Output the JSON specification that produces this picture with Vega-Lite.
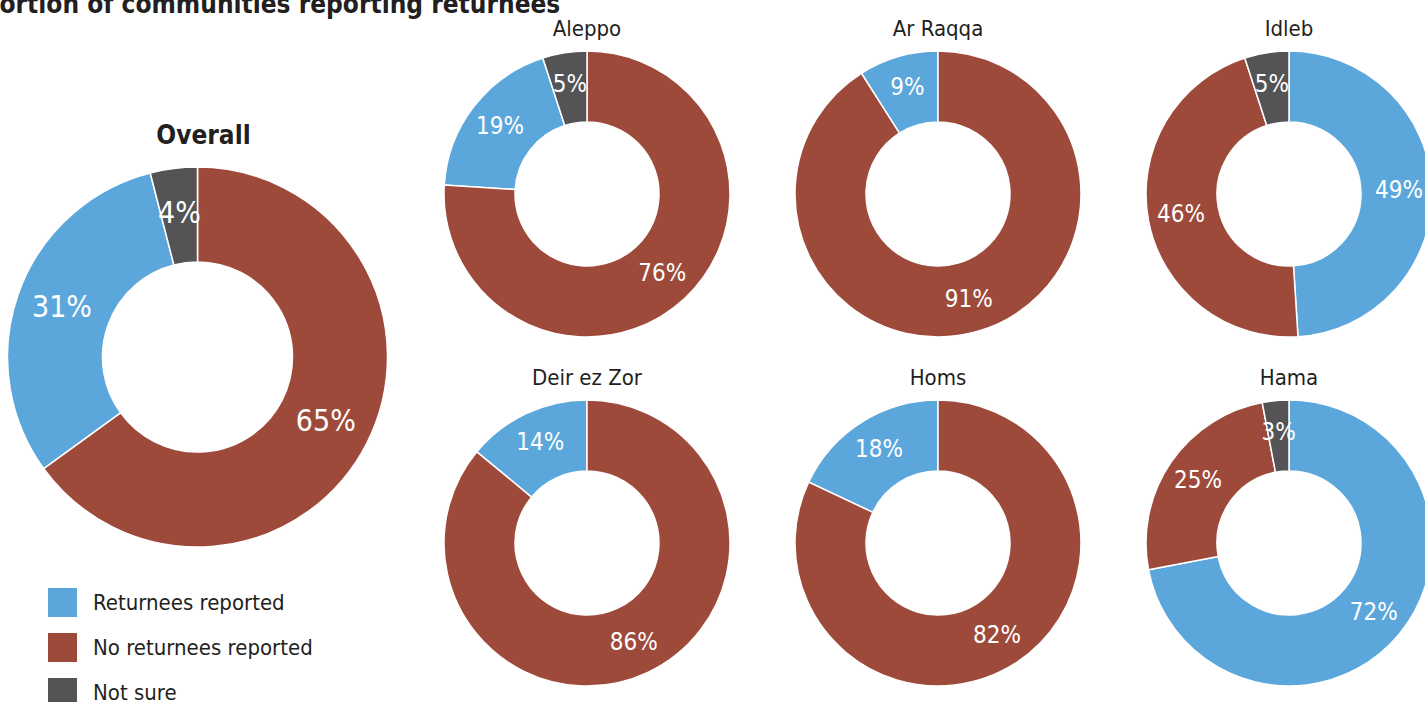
{
  "$schema": "https://vega.github.io/schema/vega-lite/v6.json",
  "padding": {"left": -62, "top": -8, "right": 0, "bottom": 0},
  "background": "white",
  "title": {"text": "Proportion of communities reporting returnees", "anchor": "start", "frame": "group", "font": "DejaVu Sans Condensed, Liberation Sans, sans-serif", "fontSize": 26, "fontWeight": "bold", "color": "#231F20", "offset": 0},
  "data": {"values": [
    {"region": "Overall", "category": "Returnees reported", "value": 0.31},
    {"region": "Overall", "category": "No returnees reported", "value": 0.65},
    {"region": "Overall", "category": "Not sure", "value": 0.04},
    {"region": "Aleppo", "category": "Returnees reported", "value": 0.19},
    {"region": "Aleppo", "category": "No returnees reported", "value": 0.76},
    {"region": "Aleppo", "category": "Not sure", "value": 0.05},
    {"region": "Ar Raqqa", "category": "Returnees reported", "value": 0.09},
    {"region": "Ar Raqqa", "category": "No returnees reported", "value": 0.91},
    {"region": "Idleb", "category": "Returnees reported", "value": 0.49},
    {"region": "Idleb", "category": "No returnees reported", "value": 0.46},
    {"region": "Idleb", "category": "Not sure", "value": 0.05},
    {"region": "Deir ez Zor", "category": "Returnees reported", "value": 0.14},
    {"region": "Deir ez Zor", "category": "No returnees reported", "value": 0.86},
    {"region": "Homs", "category": "Returnees reported", "value": 0.18},
    {"region": "Homs", "category": "No returnees reported", "value": 0.82},
    {"region": "Hama", "category": "Returnees reported", "value": 0.72},
    {"region": "Hama", "category": "No returnees reported", "value": 0.25},
    {"region": "Hama", "category": "Not sure", "value": 0.03}
  ]},
  "bounds": "flush",
  "spacing": 0,
  "resolve": {"scale": {"theta": "independent"}},
  "hconcat": [
    {
      "width": 519, "height": 616,
      "title": {"text": "Overall", "font": "DejaVu Sans Condensed, Liberation Sans, sans-serif", "fontSize": 26, "fontWeight": "bold", "color": "#231F20", "frame": "group", "offset": -100, "dx": 6},
      "transform": [{"filter": "datum.region === 'Overall'"}],
      "encoding": {
        "theta": {"field": "value", "type": "quantitative", "stack": true},
        "order": {"field": "value", "type": "quantitative", "sort": "descending"}
      },
      "layer": [
        {"mark": {"type": "arc", "innerRadius": 95, "outerRadius": 190, "stroke": "white", "strokeWidth": 1.5},
         "encoding": {"color": {"field": "category", "type": "nominal",
           "scale": {"domain": ["Returnees reported", "No returnees reported", "Not sure"], "range": ["#5BA7DB", "#9E4A3B", "#545456"]},
           "legend": {"title": null, "orient": "none", "legendX": 110, "legendY": 539, "symbolType": "square", "symbolSize": 841, "symbolStrokeWidth": 0, "symbolOpacity": 1, "labelFont": "DejaVu Sans Condensed, Liberation Sans, sans-serif", "labelFontSize": 22, "labelColor": "#231F20", "labelOffset": 16, "rowPadding": 16, "labelLimit": 400}}}},
        {"mark": {"type": "text", "radius": 144, "fill": "white", "font": "DejaVu Sans Condensed, Liberation Sans, sans-serif", "fontSize": 30},
         "encoding": {"text": {"field": "value", "type": "quantitative", "format": ".0%"}}}
      ]
    },
    {
      "bounds": "flush",
      "columns": 3,
      "spacing": {"row": 59, "column": 91},
      "resolve": {"scale": {"theta": "independent"}},
      "concat": [
        {"width": 260, "height": 290,
         "title": {"text": "Aleppo", "font": "DejaVu Sans Condensed, Liberation Sans, sans-serif", "fontSize": 22, "fontWeight": "normal", "color": "#231F20", "frame": "group", "offset": 7},
         "transform": [{"filter": "datum.region === 'Aleppo'"}],
         "encoding": {"theta": {"field": "value", "type": "quantitative", "stack": true}, "order": {"field": "value", "type": "quantitative", "sort": "descending"}},
         "layer": [
           {"mark": {"type": "arc", "innerRadius": 72, "outerRadius": 143, "stroke": "white", "strokeWidth": 1.5}, "encoding": {"color": {"field": "category", "type": "nominal", "legend": null}}},
           {"mark": {"type": "text", "radius": 110, "fill": "white", "font": "DejaVu Sans Condensed, Liberation Sans, sans-serif", "fontSize": 24}, "encoding": {"text": {"field": "value", "type": "quantitative", "format": ".0%"}}}
         ]},
        {"width": 260, "height": 290,
         "title": {"text": "Ar Raqqa", "font": "DejaVu Sans Condensed, Liberation Sans, sans-serif", "fontSize": 22, "fontWeight": "normal", "color": "#231F20", "frame": "group", "offset": 7},
         "transform": [{"filter": "datum.region === 'Ar Raqqa'"}],
         "encoding": {"theta": {"field": "value", "type": "quantitative", "stack": true}, "order": {"field": "value", "type": "quantitative", "sort": "descending"}},
         "layer": [
           {"mark": {"type": "arc", "innerRadius": 72, "outerRadius": 143, "stroke": "white", "strokeWidth": 1.5}, "encoding": {"color": {"field": "category", "type": "nominal", "legend": null}}},
           {"mark": {"type": "text", "radius": 110, "fill": "white", "font": "DejaVu Sans Condensed, Liberation Sans, sans-serif", "fontSize": 24}, "encoding": {"text": {"field": "value", "type": "quantitative", "format": ".0%"}}}
         ]},
        {"width": 260, "height": 290,
         "title": {"text": "Idleb", "font": "DejaVu Sans Condensed, Liberation Sans, sans-serif", "fontSize": 22, "fontWeight": "normal", "color": "#231F20", "frame": "group", "offset": 7},
         "transform": [{"filter": "datum.region === 'Idleb'"}],
         "encoding": {"theta": {"field": "value", "type": "quantitative", "stack": true}, "order": {"field": "value", "type": "quantitative", "sort": "descending"}},
         "layer": [
           {"mark": {"type": "arc", "innerRadius": 72, "outerRadius": 143, "stroke": "white", "strokeWidth": 1.5}, "encoding": {"color": {"field": "category", "type": "nominal", "legend": null}}},
           {"mark": {"type": "text", "radius": 110, "fill": "white", "font": "DejaVu Sans Condensed, Liberation Sans, sans-serif", "fontSize": 24}, "encoding": {"text": {"field": "value", "type": "quantitative", "format": ".0%"}}}
         ]},
        {"width": 260, "height": 290,
         "title": {"text": "Deir ez Zor", "font": "DejaVu Sans Condensed, Liberation Sans, sans-serif", "fontSize": 22, "fontWeight": "normal", "color": "#231F20", "frame": "group", "offset": 7},
         "transform": [{"filter": "datum.region === 'Deir ez Zor'"}],
         "encoding": {"theta": {"field": "value", "type": "quantitative", "stack": true}, "order": {"field": "value", "type": "quantitative", "sort": "descending"}},
         "layer": [
           {"mark": {"type": "arc", "innerRadius": 72, "outerRadius": 143, "stroke": "white", "strokeWidth": 1.5}, "encoding": {"color": {"field": "category", "type": "nominal", "legend": null}}},
           {"mark": {"type": "text", "radius": 110, "fill": "white", "font": "DejaVu Sans Condensed, Liberation Sans, sans-serif", "fontSize": 24}, "encoding": {"text": {"field": "value", "type": "quantitative", "format": ".0%"}}}
         ]},
        {"width": 260, "height": 290,
         "title": {"text": "Homs", "font": "DejaVu Sans Condensed, Liberation Sans, sans-serif", "fontSize": 22, "fontWeight": "normal", "color": "#231F20", "frame": "group", "offset": 7},
         "transform": [{"filter": "datum.region === 'Homs'"}],
         "encoding": {"theta": {"field": "value", "type": "quantitative", "stack": true}, "order": {"field": "value", "type": "quantitative", "sort": "descending"}},
         "layer": [
           {"mark": {"type": "arc", "innerRadius": 72, "outerRadius": 143, "stroke": "white", "strokeWidth": 1.5}, "encoding": {"color": {"field": "category", "type": "nominal", "legend": null}}},
           {"mark": {"type": "text", "radius": 110, "fill": "white", "font": "DejaVu Sans Condensed, Liberation Sans, sans-serif", "fontSize": 24}, "encoding": {"text": {"field": "value", "type": "quantitative", "format": ".0%"}}}
         ]},
        {"width": 260, "height": 290,
         "title": {"text": "Hama", "font": "DejaVu Sans Condensed, Liberation Sans, sans-serif", "fontSize": 22, "fontWeight": "normal", "color": "#231F20", "frame": "group", "offset": 7},
         "transform": [{"filter": "datum.region === 'Hama'"}],
         "encoding": {"theta": {"field": "value", "type": "quantitative", "stack": true}, "order": {"field": "value", "type": "quantitative", "sort": "descending"}},
         "layer": [
           {"mark": {"type": "arc", "innerRadius": 72, "outerRadius": 143, "stroke": "white", "strokeWidth": 1.5}, "encoding": {"color": {"field": "category", "type": "nominal", "legend": null}}},
           {"mark": {"type": "text", "radius": 110, "fill": "white", "font": "DejaVu Sans Condensed, Liberation Sans, sans-serif", "fontSize": 24}, "encoding": {"text": {"field": "value", "type": "quantitative", "format": ".0%"}}}
         ]}
      ]
    }
  ],
  "config": {"view": {"stroke": null}, "font": "DejaVu Sans Condensed, Liberation Sans, sans-serif"}
}
